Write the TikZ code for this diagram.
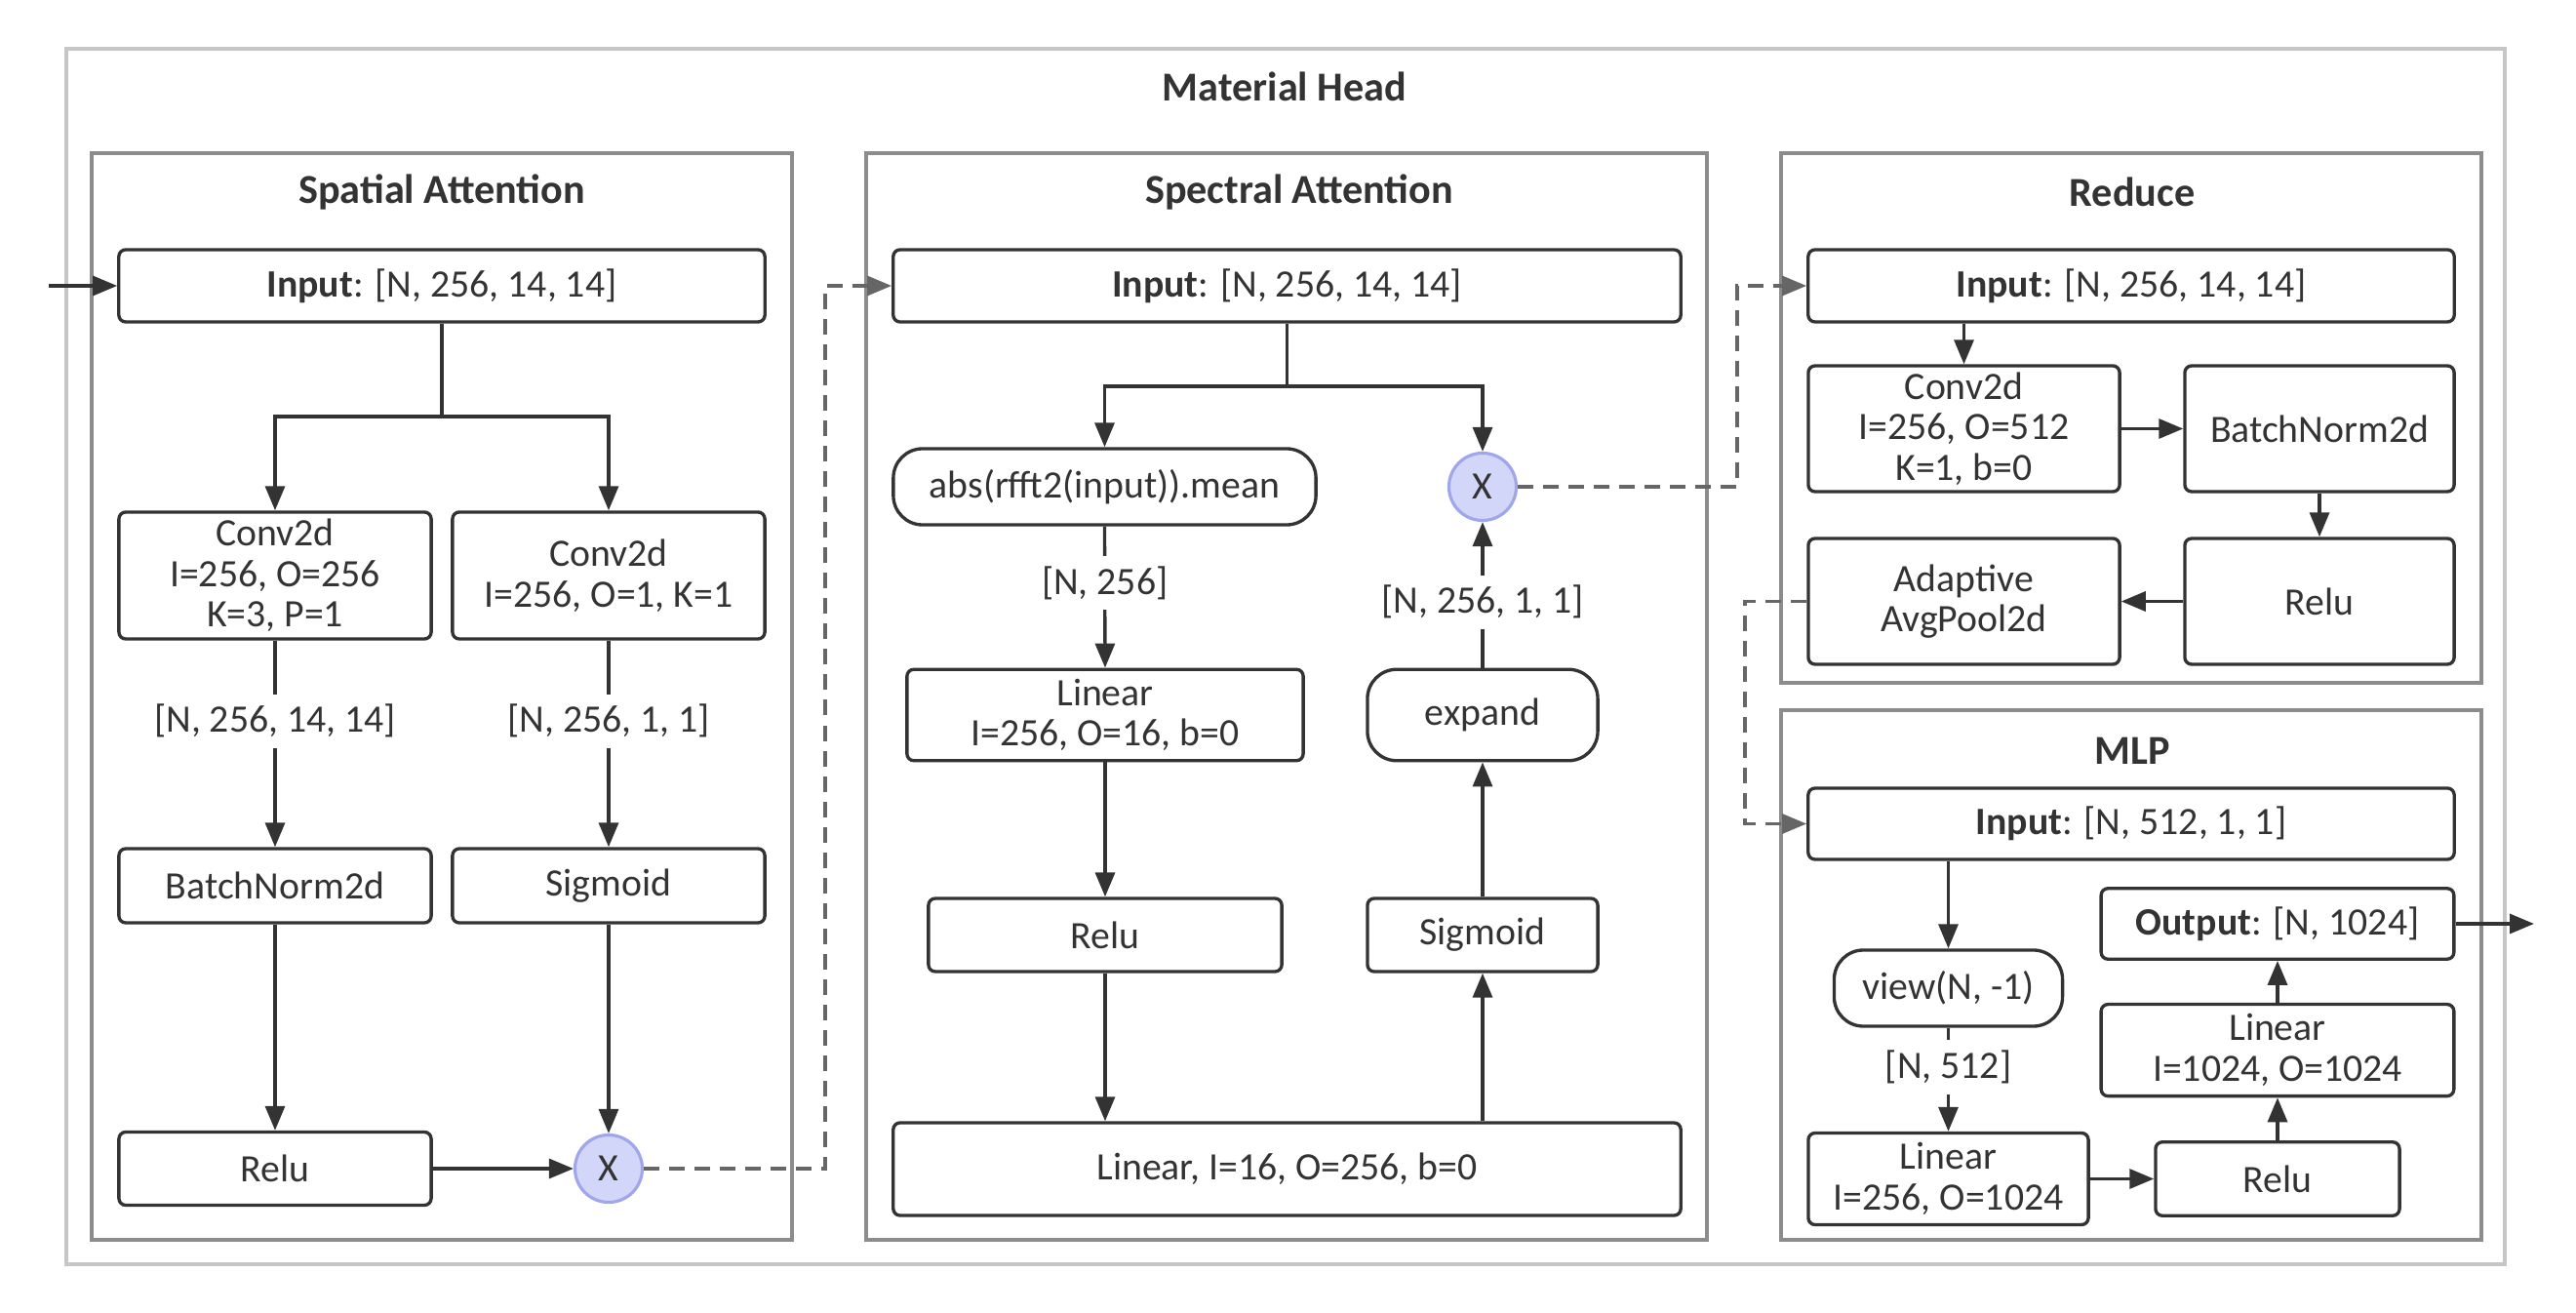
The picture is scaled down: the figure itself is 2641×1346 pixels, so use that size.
\documentclass[tikz,border=0pt]{standalone}
\usepackage{fontspec}
\setmainfont{Carlito}
\usepackage{tikz}
\usetikzlibrary{arrows.meta,positioning}
\definecolor{linec}{RGB}{51,51,51}
\definecolor{dashc}{RGB}{102,102,102}
\definecolor{groupc}{RGB}{140,140,140}
\definecolor{outerc}{RGB}{198,198,198}
\definecolor{multfill}{RGB}{210,214,248}
\definecolor{multdraw}{RGB}{160,166,236}

\begin{document}
\begin{tikzpicture}[x=0.01cm, y=-0.01cm,
    every node/.style={font=\fontsize{11.3}{11.8}\selectfont, text=linec},
    layer/.style={draw=linec, line width=0.95pt, rounded corners=2pt, fill=white, align=center, inner sep=1pt},
    pill/.style={layer, rounded corners=0.3cm},
    mult/.style={circle, draw=multdraw, fill=multfill, line width=0.9pt, minimum size=0.69cm, inner sep=0pt},
    group/.style={draw=groupc, line width=0.95pt},
    title/.style={font=\fontsize{12}{14}\selectfont\bfseries},
    arr/.style={draw=linec, line width=0.95pt, -{Triangle[length=0.25cm,width=0.2cm]}},
    dasharr/.style={arr, draw=dashc, dash pattern=on 0.16cm off 0.1cm},
    dimlabel/.style={fill=white, inner sep=3pt}
]
    \useasboundingbox (0,0) rectangle (2641,1346);

    % Frames
    \draw[draw=outerc, line width=0.95pt] (68,50) rectangle (2568,1296);
    \node[title] (thead) at (1317,89) {Material Head};
    \draw[group] (94,157) rectangle (812,1271);
    \node[title] (tspat) at (453,197) {Spatial Attention};
    \draw[group] (888,157) rectangle (1750,1271);
    \node[title] (tspec) at (1332,197) {Spectral Attention};
    \draw[group] (1826,157) rectangle (2544,700);
    \node[title] (tred) at (2186,197) {Reduce};
    \draw[group] (1826,728) rectangle (2544,1271);
    \node[title] (tmlp) at (2186,770) {MLP};

    % Spatial attention
    \node[layer, minimum width=6.62cm, minimum height=0.74cm] (sin) at (453,293) {\textbf{Input}: [N, 256, 14, 14]};
    \node[layer, minimum width=3.2cm, minimum height=1.3cm] (sconva) at (282,590) {Conv2d\\I=256, O=256\\K=3, P=1};
    \node[layer, minimum width=3.2cm, minimum height=1.3cm] (sconvb) at (624,590) {Conv2d\\I=256, O=1, K=1};
    \node[layer, minimum width=3.2cm, minimum height=0.76cm] (sbn) at (282,908) {BatchNorm2d};
    \node[layer, minimum width=3.2cm, minimum height=0.76cm] (ssig) at (624,908) {Sigmoid};
    \node[layer, minimum width=3.2cm, minimum height=0.75cm] (srelu) at (282,1198) {Relu};
    \node[mult] (smul) at (624,1198) {X};
    \coordinate (sstart) at (50,293);
    \coordinate (ssplit) at (453,427);

    \draw[arr] (sstart) -- (sin.west);
    \draw[arr] (sin.south) -- (ssplit) -| (sconva.north);
    \draw[arr] (ssplit) -| (sconvb.north);
    \draw[arr] (sconva.south) -- node[dimlabel, pos=0.39] {[N, 256, 14, 14]} (sbn.north);
    \draw[arr] (sconvb.south) -- node[dimlabel, pos=0.39] {[N, 256, 1, 1]} (ssig.north);
    \draw[arr] (sbn.south) -- (srelu.north);
    \draw[arr] (ssig.south) -- (smul.north);
    \draw[arr] (srelu.east) -- (smul.west);

    % Spectral attention
    \node[layer, minimum width=8.07cm, minimum height=0.74cm] (fin) at (1319.5,293) {\textbf{Input}: [N, 256, 14, 14]};
    \node[pill, minimum width=4.33cm, minimum height=0.78cm] (fabs) at (1132.5,499) {abs(rfft2(input)).mean};
    \node[mult] (fmul) at (1520,499) {X};
    \node[layer, minimum width=4.06cm, minimum height=0.935cm] (flin) at (1133,733) {Linear\\I=256, O=16, b=0};
    \node[pill, minimum width=2.36cm, minimum height=0.935cm] (fexp) at (1520,733) {expand};
    \node[layer, minimum width=3.62cm, minimum height=0.75cm] (frelu) at (1133,958.5) {Relu};
    \node[layer, minimum width=2.36cm, minimum height=0.75cm] (fsig) at (1520,958.5) {Sigmoid};
    \node[layer, minimum width=8.07cm, minimum height=0.95cm] (flinb) at (1319.5,1198.5) {Linear, I=16, O=256, b=0};
    \coordinate (fsplit) at (1319.5,396);
    \coordinate (djoina) at (846,0);

    \draw[dasharr] (smul.east) -| (djoina |- fin.west) -- (fin.west);
    \draw[arr] (fin.south) -- (fsplit) -| (fabs.north);
    \draw[arr] (fsplit) -| (fmul.north);
    \draw[arr] (fabs.south) -- node[dimlabel, pos=0.4] {[N, 256]} (flin.north);
    \draw[arr] (flin.south) -- (frelu.north);
    \draw[arr] (frelu.south) -- (frelu.south |- flinb.north);
    \draw[arr] (fsig.south |- flinb.north) -- (fsig.south);
    \draw[arr] (fsig.north) -- (fexp.south);
    \draw[arr] (fexp.north) -- node[dimlabel, pos=0.45] {[N, 256, 1, 1]} (fmul.south);

    % Reduce
    \node[layer, minimum width=6.62cm, minimum height=0.74cm] (rin) at (2185,293) {\textbf{Input}: [N, 256, 14, 14]};
    \node[layer, minimum width=3.19cm, minimum height=1.29cm] (rconv) at (2013.5,439.5) {Conv2d\\I=256, O=512\\K=1, b=0};
    \node[layer, minimum width=2.76cm, minimum height=1.29cm] (rbn) at (2378,439.5) {BatchNorm2d};
    \node[layer, minimum width=2.76cm, minimum height=1.29cm] (rrelu) at (2378,616.5) {Relu};
    \node[layer, minimum width=3.19cm, minimum height=1.29cm] (rpool) at (2013.5,616.5) {Adaptive\\AvgPool2d};
    \coordinate (djoinb) at (1781,0);

    \draw[dasharr] (fmul.east) -| (djoinb |- rin.west) -- (rin.west);
    \draw[arr] (rconv.north |- rin.south) -- (rconv.north);
    \draw[arr] (rconv.east) -- (rbn.west);
    \draw[arr] (rbn.south) -- (rrelu.north);
    \draw[arr] (rrelu.west) -- (rpool.east);

    % MLP
    \node[layer, minimum width=6.62cm, minimum height=0.73cm] (min) at (2185,844.5) {\textbf{Input}: [N, 512, 1, 1]};
    \node[pill, minimum width=2.34cm, minimum height=0.78cm] (mview) at (1997.5,1013) {view(N, -1)};
    \node[layer, minimum width=2.87cm, minimum height=0.94cm] (mlina) at (1997.5,1208.5) {Linear\\I=256, O=1024};
    \node[layer, minimum width=2.5cm, minimum height=0.755cm] (mrelu) at (2335,1208.5) {Relu};
    \node[layer, minimum width=3.615cm, minimum height=0.94cm] (mlinb) at (2335,1076.6) {Linear\\I=1024, O=1024};
    \node[layer, minimum width=3.615cm, minimum height=0.725cm] (mout) at (2335,947) {\textbf{Output}: [N, 1024]};
    \coordinate (djoinc) at (1789,0);
    \coordinate (mend) at (2598,947);

    \draw[dasharr] (rpool.west) -| (djoinc |- min.west) -- (min.west);
    \draw[arr] (mview.north |- min.south) -- (mview.north);
    \draw[arr] (mview.south) -- node[dimlabel, pos=0.38] {[N, 512]} (mlina.north);
    \draw[arr] (mlina.east) -- (mrelu.west);
    \draw[arr] (mrelu.north) -- (mlinb.south);
    \draw[arr] (mlinb.north) -- (mout.south);
    \draw[arr] (mout.east) -- (mend);
\end{tikzpicture}
\end{document}
